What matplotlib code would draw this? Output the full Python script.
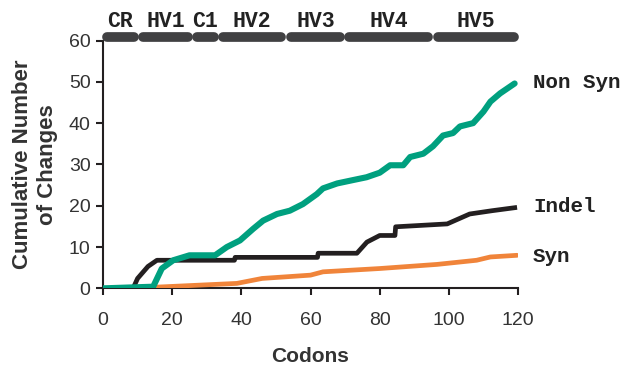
import matplotlib
matplotlib.use("Agg")
from matplotlib import pyplot as plt

# cumulative changes along codons
nonsyn_x = [0, 14.5, 17, 20.3, 25, 32.4, 35.8, 39.6, 43.4, 46.3, 50.3, 54, 57.8, 61.8, 63.6, 67.7,
            72.2, 76.2, 80, 83, 86.8, 88.8, 92.6, 95.4, 98.3, 101.2, 103.2, 107, 110, 112, 114.8, 119]
nonsyn_y = [0, 0.4, 4.8, 6.8, 8.0, 8.0, 10, 11.6, 14.4, 16.4, 18, 18.8, 20.4, 22.8, 24.2, 25.4,
            26.2, 26.9, 28, 29.8, 29.8, 31.8, 32.6, 34.4, 37, 37.6, 39.2, 40, 42.8, 45.2, 47.2, 49.6]

indel_x = [0, 8.7, 10, 13, 15.6, 38, 38.2, 62, 62.2, 73.4, 76.3, 80, 84.4, 84.6, 99.5, 106, 112.5, 119.7]
indel_y = [0, 0, 2.4, 5.3, 6.8, 6.8, 7.5, 7.5, 8.5, 8.5, 11.2, 12.8, 12.8, 14.9, 15.6, 18, 18.8, 19.6]

syn_x = [0, 15.6, 38.7, 46, 60, 63.6, 80, 96.6, 108, 112, 119.7]
syn_y = [0, 0.3, 1.2, 2.4, 3.2, 4.0, 4.8, 5.8, 6.8, 7.6, 8.0]

# regions along the top
regions = ["CR", "HV1", "C1", "HV2", "HV3", "HV4", "HV5"]
region_start = [0, 10.4, 26, 33.5, 53.2, 70, 95.7]
region_end = [10.1, 25.7, 33.2, 52.6, 69.7, 95.1, 120]

fig = plt.figure(figsize=(6.28, 3.65), dpi=100)
ax = fig.add_axes([0.164, 0.21, 0.661, 0.679])

ax.plot(syn_x, syn_y, color="#f0843a", lw=3.4, solid_capstyle="round", solid_joinstyle="round", zorder=3)
ax.plot(indel_x, indel_y, color="#231f20", lw=3.4, solid_capstyle="butt", zorder=4)
ax.plot(nonsyn_x, nonsyn_y, color="#00a07f", lw=4.4, solid_capstyle="round", solid_joinstyle="round", zorder=5)

mono = dict(family="Liberation Mono", weight="bold", color="#222222")
ax.text(124.3, 49.9, "Non Syn", va="center", ha="left", fontsize=15, **mono)
ax.text(124.3, 19.7, "Indel", va="center", ha="left", fontsize=15, **mono)
ax.text(124.3, 7.7, "Syn", va="center", ha="left", fontsize=15, **mono)

for name, s, e in zip(regions, region_start, region_end):
    ax.plot([s + 1.2, e - 1.2], [60.8, 60.8], color="#404042", lw=7, solid_capstyle="round", clip_on=False, zorder=6)
    ax.text((s + e) / 2, 64.7, name, ha="center", va="center", fontsize=15.5, **mono)

ax.set_xlim(0, 120)
ax.set_ylim(0, 60)
ax.set_xticks(range(0, 121, 20))
ax.set_yticks(range(0, 61, 10))
for side in ["top", "right"]:
    ax.spines[side].set_visible(False)
for side in ["left", "bottom"]:
    ax.spines[side].set_linewidth(1.5)
    ax.spines[side].set_color("#231f20")
ax.tick_params(length=5, width=1.5, color="#231f20", labelsize=14, labelcolor="#333333")
ax.tick_params(axis="x", pad=12)
ax.tick_params(axis="y", pad=4)
for lab in ax.get_xticklabels() + ax.get_yticklabels():
    lab.set_family("Liberation Sans")

ax.set_xlabel("Codons", family="Liberation Sans", weight="bold", fontsize=15, color="#333333", labelpad=13)
ax.set_ylabel("Cumulative Number\nof Changes", family="Liberation Sans", weight="bold", fontsize=16,
              color="#333333", labelpad=8, linespacing=1.2)

fig.savefig("out.png", dpi=100)
